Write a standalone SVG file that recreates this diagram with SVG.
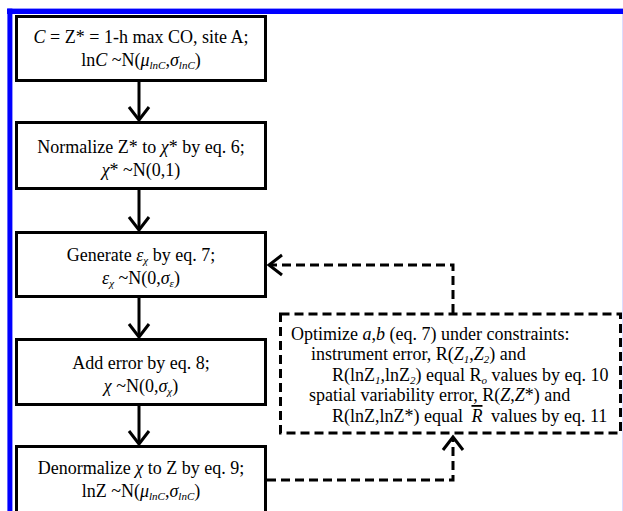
<svg xmlns="http://www.w3.org/2000/svg" width="623" height="511" viewBox="0 0 623 511">
<style>
.box{fill:#fff;stroke:#000;stroke-width:3}
.dbox{fill:none;stroke:#000;stroke-width:3;stroke-dasharray:9 5}
text{font-family:'Liberation Serif','DejaVu Serif',serif;font-size:18px;fill:#000}
.i{font-style:italic}
.s{font-style:italic;font-size:11px}
.c{fill:none;stroke:#000;stroke-width:3}
.d{fill:none;stroke:#000;stroke-width:3;stroke-dasharray:9 5}
</style>
<defs>
<marker id="ah" markerUnits="userSpaceOnUse" viewBox="0 0 16 22" markerWidth="16" markerHeight="22" refX="14" refY="11" orient="auto" overflow="visible">
<path d="M1,1 L14,11 L1,21" fill="none" stroke="#000" stroke-width="3" stroke-dasharray="none"/>
</marker>
</defs>
<rect width="623" height="511" fill="#fff"/>
<g id="frame">
<rect x="7" y="8.6" width="616" height="5.4" fill="#0000ff"/>
<rect x="7.4" y="8.6" width="5" height="503" fill="#0000ff"/>
<rect x="622" y="14" width="1" height="497" fill="#dcdcff"/>
</g>
<g id="connectors">
<path class="c" d="M139,82 V120" marker-end="url(#ah)"/>
<path class="c" d="M139,190 V230" marker-end="url(#ah)"/>
<path class="c" d="M139,298 V337" marker-end="url(#ah)"/>
<path class="c" d="M139,406 V444" marker-end="url(#ah)"/>
<path class="d" d="M453,313 V265 H269" marker-end="url(#ah)"/>
<path class="d" d="M267,480 H453 V437" marker-end="url(#ah)"/>
</g>
<g id="n1" font-family="Liberation Serif">
<rect class="box" x="16.5" y="16.5" width="249" height="64"/>
<text x="141" y="43" text-anchor="middle"><tspan class="i">C</tspan> = Z* = 1-h max CO, site A;</text>
<text x="141" y="66" text-anchor="middle">ln<tspan class="i">C</tspan> ~N(<tspan class="i">μ</tspan><tspan class="s" dy="3">lnC</tspan><tspan dy="-3">,</tspan><tspan class="i">σ</tspan><tspan class="s" dy="3">lnC</tspan><tspan dy="-3">)</tspan></text>
</g>
<g id="n2">
<rect class="box" x="16.5" y="122.5" width="249" height="66"/>
<text x="141" y="153" text-anchor="middle">Normalize Z* to <tspan class="i">χ</tspan>* by eq. 6;</text>
<text x="141" y="176" text-anchor="middle"><tspan class="i">χ</tspan>* ~N(0,1)</text>
</g>
<g id="n3">
<rect class="box" x="16.5" y="232.5" width="249" height="64"/>
<text x="141" y="261" text-anchor="middle">Generate <tspan class="i">ε</tspan><tspan class="s" dy="3">χ</tspan><tspan dy="-3"> by eq. 7;</tspan></text>
<text x="141" y="284" text-anchor="middle"><tspan class="i">ε</tspan><tspan class="s" dy="3">χ</tspan><tspan dy="-3"> ~N(0,</tspan><tspan class="i">σ</tspan><tspan class="s" dy="3">ε</tspan><tspan dy="-3">)</tspan></text>
</g>
<g id="n4">
<rect class="box" x="16.5" y="339.5" width="249" height="65"/>
<text x="141" y="369" text-anchor="middle">Add error by eq. 8;</text>
<text x="141" y="392" text-anchor="middle"><tspan class="i">χ</tspan> ~N(0,<tspan class="i">σ</tspan><tspan class="s" dy="3">χ</tspan><tspan dy="-3">)</tspan></text>
</g>
<g id="n5">
<rect class="box" x="16.5" y="446.5" width="249" height="80"/>
<text x="141" y="474" text-anchor="middle">Denormalize <tspan class="i">χ</tspan> to Z by eq. 9;</text>
<text x="141" y="497" text-anchor="middle">lnZ ~N(<tspan class="i">μ</tspan><tspan class="s" dy="3">lnC</tspan><tspan dy="-3">,</tspan><tspan class="i">σ</tspan><tspan class="s" dy="3">lnC</tspan><tspan dy="-3">)</tspan></text>
</g>
<g id="n6">
<rect class="dbox" x="280.5" y="314" width="340" height="119"/>
<text x="291" y="340">Optimize <tspan class="i">a</tspan>,<tspan class="i">b</tspan> (eq. 7) under constraints:</text>
<text x="311" y="360">instrument error, R(<tspan class="i">Z</tspan><tspan class="s" dy="3">1</tspan><tspan dy="-3">,</tspan><tspan class="i">Z</tspan><tspan class="s" dy="3">2</tspan><tspan dy="-3">) and</tspan></text>
<text x="332" y="381">R(lnZ<tspan class="s" dy="3">1</tspan><tspan dy="-3">,lnZ</tspan><tspan class="s" dy="3">2</tspan><tspan dy="-3">) equal R</tspan><tspan class="s" dy="3">o</tspan><tspan dy="-3"> values by eq. 10</tspan></text>
<text x="309" y="401">spatial variability error, R(<tspan class="i">Z</tspan>,<tspan class="i">Z</tspan>*) and</text>
<text x="332" y="422">R(lnZ,lnZ*) equal <tspan class="i" dx="4" style="text-decoration:overline">R</tspan><tspan dx="4"> values by eq. 11</tspan></text>
</g>
</svg>
